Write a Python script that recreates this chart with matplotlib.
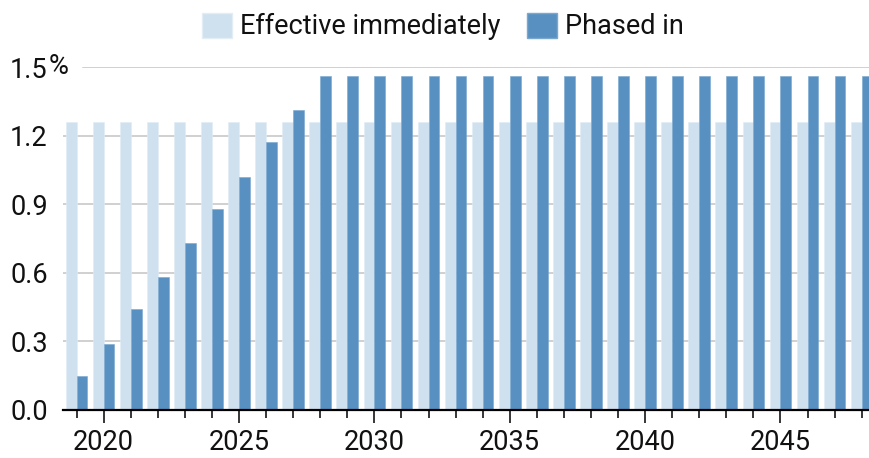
import numpy as np
import matplotlib.pyplot as plt
from matplotlib.patches import Patch
from matplotlib.ticker import MultipleLocator

years = np.arange(2019, 2049)
effective = [1.26] * len(years)
phased = [0.15, 0.29, 0.44, 0.58, 0.73, 0.88, 1.02, 1.17, 1.31] + [1.46] * 21
yticks = [0.0, 0.3, 0.6, 0.9, 1.2, 1.5]
ylabels = ['0.0', '0.3', '0.6', '0.9', '1.2', '1.5']

light = '#cfe0ee'
dark = '#5891c1'
txt = '#111111'
plt.rcParams['font.family'] = ['Roboto', 'DejaVu Sans']
fs = 19.5
fw = 'normal'

fig = plt.figure(figsize=(8.69, 4.58), dpi=100)
ax = fig.add_axes([63 / 869, 1 - 410 / 458, 1 - 63 / 869, 343 / 458])

for y in yticks:
    xmin = 0.025 if y == 1.5 else 0
    ax.axhline(y, xmin=xmin, color='#c4c4c4', lw=1.1, zorder=0)

ax.bar(years - 0.2, effective, width=0.4, color=light, edgecolor='#e2edf6', lw=0.4, zorder=2)
ax.bar(years + 0.2, phased, width=0.4, color=dark, edgecolor='#7aa8cf', lw=0.4, zorder=2)

ax.set_xlim(2018.5, 2048.27)
ax.set_ylim(0, 1.5)

ax.set_yticks(yticks)
ax.set_yticklabels(ylabels, fontsize=fs, fontweight=fw, color=txt)
ax.tick_params(axis='y', length=0, pad=11)
ax.text(-14 / 806, 1.5, '%', transform=ax.get_yaxis_transform(), ha='left', va='center',
        fontsize=fs, fontweight=fw, color=txt)

ax.xaxis.set_major_locator(MultipleLocator(5))
ax.xaxis.set_minor_locator(MultipleLocator(1))
ax.tick_params(axis='x', which='major', length=9.5, width=1.1, pad=4, labelsize=fs,
               labelcolor=txt)
ax.tick_params(axis='x', which='minor', length=5.8, width=1.1)
for lab in ax.get_xticklabels():
    lab.set_fontweight(fw)

for s in ['top', 'right', 'left']:
    ax.spines[s].set_visible(False)
ax.spines['bottom'].set_linewidth(1.6)
ax.spines['bottom'].set_zorder(3)

handles = [Patch(facecolor=light, edgecolor='#e2edf6', label='Effective immediately'),
           Patch(facecolor=dark, edgecolor='#7aa8cf', label='Phased in')]
leg = fig.legend(handles=handles, loc='center', bbox_to_anchor=(443 / 869, 1 - 26.5 / 458), ncol=2,
                 frameon=False, prop={'size': fs, 'weight': fw}, handlelength=1.1,
                 handleheight=1.07, handletextpad=0.3, columnspacing=1.0, borderpad=0,
                 borderaxespad=0)
for t in leg.get_texts():
    t.set_color(txt)

fig.savefig('out.png', dpi=100)
